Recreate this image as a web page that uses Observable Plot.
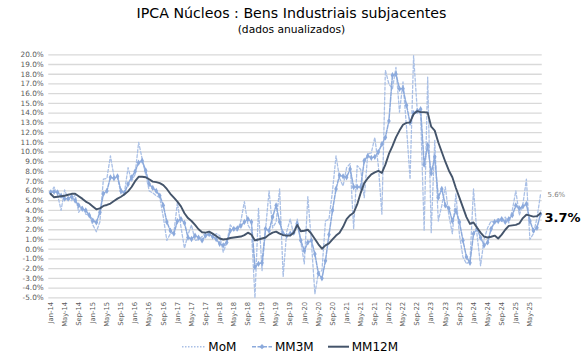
<!DOCTYPE html>
<html><head><meta charset="utf-8">
<script src="https://cdn.jsdelivr.net/npm/d3@7"></script>
<script src="https://cdn.jsdelivr.net/npm/@observablehq/plot@0.6"></script>
<style>
body{margin:0;background:#fff;font-family:"DejaVu Sans",Verdana,sans-serif;}
#wrap{position:relative;width:583px;height:363px;overflow:hidden;background:#fff}
.t{position:absolute;left:0;width:583px;text-align:center;white-space:nowrap;line-height:1;color:#000}
#title{top:6.3px;font-size:14.2px}
#sub{top:24.5px;font-size:10.7px}
#chart{position:absolute;top:42px;left:0}
#legend{position:absolute;top:336px;left:0}
</style></head>
<body><div id="wrap">
<div id="title" class="t">IPCA Núcleos : Bens Industriais subjacentes</div>
<div id="sub" class="t">(dados anualizados)</div>
<div id="chart"></div>
<div id="legend"></div>
</div>
<script>
// Jan-14 .. Aug-25, monthly (annualized %)
const mom = [
 5.8, 6.4, 5.6, 4.0, 6.1, 5.2, 5.0, 5.6, 3.8, 4.4,
 3.6, 3.5, 2.5, 1.8, 2.8, 7.2, 7.3, 9.6, 7.5, 7.4,
 5.7, 5.9, 8.4, 7.0, 7.7, 11.0, 9.3, 7.7, 6.0, 5.8,
 5.5, 5.3, 3.3, 0.9, 1.6, 1.7, 4.8, 2.3, 0.1, 1.5,
 2.5, 0.9, 1.0, 1.3, 1.7, 1.6, 1.2, 1.6, 1.4, -0.3,
 0.7, 2.5, 2.0, 1.9, 2.9, 4.9, 2.5, 1.9, -5.0, 4.2,
 -2.2, 2.0, 6.0, 2.2, 2.8, 6.2, -2.8, 1.8, 3.1, 1.5,
 3.1, 0.8, -1.5, 5.4, 0.8, -4.6, -2.4, -2.2, 2.9, 3.1,
 6.0, 9.6, 7.3, 6.5, 8.4, 8.8, 2.1, 8.6, 8.2, 5.3,
 9.8, 9.9, 11.5, 8.6, 3.6, 18.4, 17.0, 16.5, 18.7, 14.1,
 17.2, 12.5, 7.2, 19.9, 14.5, 13.8, 1.9, 17.7, 1.7, 11.2,
 2.9, 4.5, 6.4, 3.5, 1.6, 5.7, 1.5, -0.8, -1.5, -1.2,
 6.2, 1.5, -1.7, 1.0, 2.2, 2.9, 2.7, 3.2, 2.8, 3.3,
 2.7, 4.0, 6.0, 3.5, 4.6, 7.2, 1.0, 1.6, 3.2, 5.6
];
const mm3m = [
 5.85, 5.9, 5.85, 5.5, 5.2, 5.2, 5.4, 5.0, 4.5, 4.15,
 4.0, 3.5, 2.95, 2.75, 3.8, 5.7, 6.0, 7.4, 7.3, 7.5,
 6.0, 5.8, 6.7, 7.4, 8.0, 8.9, 9.1, 8.1, 6.7, 6.3,
 6.0, 5.5, 4.5, 2.8, 1.9, 1.6, 2.9, 3.1, 2.7, 1.2,
 1.05, 1.4, 1.2, 0.9, 1.4, 1.55, 1.3, 1.05, 0.55, 0.4,
 0.7, 1.9, 2.1, 2.15, 2.4, 2.8, 3.1, 2.8, -1.85, -1.5,
 -1.4, 2.1, 1.9, 3.3, 4.5, 2.8, 1.6, 1.4, 1.6, 1.7,
 2.6, 0.9, -0.15, 0.7, 0.9, -0.5, -2.5, -3.0, -1.2, 1.5,
 4.0, 6.2, 7.6, 7.5, 7.4, 8.25, 6.4, 6.4, 6.4, 9.1,
 9.6, 9.4, 9.5, 10.0, 10.8, 11.5, 13.2, 17.9, 18.0, 16.5,
 16.5, 14.8, 13.0, 14.0, 14.2, 14.4, 8.7, 10.7, 7.8, 9.5,
 5.3, 6.2, 4.5, 4.2, 2.9, 4.0, 2.8, 0.9, -0.8, -1.4,
 1.6, 2.1, 1.2, 0.4, 0.7, 2.1, 2.8, 2.9, 3.1, 2.8,
 3.1, 3.5, 4.5, 4.2, 4.4, 4.65, 2.9, 1.9, 2.2, 3.6
];
const mm12m = [
 5.7, 5.35, 5.4, 5.45, 5.5, 5.6, 5.7, 5.7, 5.45, 5.2,
 4.9, 4.7, 4.4, 4.1, 4.2, 4.45, 4.55, 4.7, 4.95, 5.2,
 5.4, 5.65, 5.95, 6.4, 7.0, 7.45, 7.45, 7.4, 7.2, 6.95,
 6.9, 6.8, 6.6, 6.2, 5.7, 5.3, 4.9, 4.4, 3.7, 3.2,
 2.9, 2.5, 2.05, 1.75, 1.7, 1.8, 1.6, 1.35, 1.1, 1.0,
 1.05, 1.15, 1.2, 1.25, 1.3, 1.45, 1.7, 1.5, 0.9, 1.0,
 1.1, 1.2, 1.5, 1.7, 1.8, 1.6, 1.45, 1.4, 1.4, 1.7,
 2.5, 1.85, 1.9, 2.0, 1.6, 1.05, 0.5, 0.05, 0.4, 0.6,
 1.0, 1.4, 1.7, 2.3, 3.1, 3.5, 3.75, 4.6, 5.8, 6.8,
 7.3, 7.7, 7.9, 8.05, 7.85, 8.7, 9.8, 10.6, 11.5, 12.2,
 12.8, 13.0, 13.05, 13.9, 14.2, 14.1, 14.1, 14.05, 12.6, 12.2,
 11.0, 10.0, 9.0, 8.1, 7.4, 6.3, 5.3, 4.3, 3.3, 2.6,
 2.75, 2.2, 1.7, 1.3, 1.2, 1.28, 1.4, 1.1, 1.5, 2.0,
 2.4, 2.45, 2.5, 2.65, 3.2, 3.55, 3.45, 3.35, 3.4, 3.7
];
const xTickLabels = [
 "Jan-14","May-14","Sep-14","Jan-15","May-15","Sep-15","Jan-16","May-16","Sep-16",
 "Jan-17","May-17","Sep-17","Jan-18","May-18","Sep-18","Jan-19","May-19","Sep-19",
 "Jan-20","May-20","Sep-20","Jan-21","May-21","Sep-21","Jan-22","May-22","Sep-22",
 "Jan-23","May-23","Sep-23","Jan-24","May-24","Sep-24","Jan-25","May-25"
];
const yTicks = d3.range(-5, 20.001, 1);
const seriesNames = ["MoM", "MM3M", "MM12M"];

const n = mm12m.length;
const rows = d3.range(n).map(i => ({i, mom: mom[i], mm3m: mm3m[i], mm12m: mm12m[i]}));
const last = rows[n - 1];
const xTickPos = xTickLabels.map((_, k) => k * 4);

const cMoM = "#aac0e6", c3 = "#8caadc", c12 = "#44546a";

const plot = Plot.plot({
  width: 583, height: 296,
  marginLeft: 48.25, marginRight: 41.25, marginTop: 12.3, marginBottom: 40.7,
  style: {fontFamily: "'DejaVu Sans', Verdana, sans-serif", color: "#595959", background: "transparent", overflow: "visible"},
  x: {type: "linear", domain: [-0.5, n - 0.5], axis: null, label: null},
  y: {domain: [-5, 20], axis: null, label: null},
  marks: [
    Plot.ruleY(yTicks, {stroke: "#d9d9d9", strokeWidth: 1.3}),
    Plot.axisY({ticks: yTicks, tickSize: 0, tickPadding: 5, fontSize: 7.3, label: null, tickFormat: d => d.toFixed(1) + "%"}),
    Plot.axisX({ticks: xTickPos, tickSize: 0, tickPadding: 4, tickRotate: -90, fontSize: 6.8, label: null, tickFormat: d => xTickLabels[d / 4]}),
    Plot.line(rows, {x: "i", y: "mom", stroke: cMoM, strokeWidth: 1.3, strokeDasharray: "3,2"}),
    Plot.line(rows, {x: "i", y: "mm3m", stroke: c3, strokeWidth: 1.5, strokeDasharray: "4,1.5"}),
    Plot.dot(rows, {x: "i", y: "mm3m", symbol: "diamond", r: 1.9, fill: c3, stroke: "none"}),
    Plot.line(rows, {x: "i", y: "mm12m", stroke: c12, strokeWidth: 1.9}),
    Plot.text([last], {x: "i", y: "mom", text: d => d.mom.toFixed(1) + "%", dx: 7, textAnchor: "start", fontSize: 7, fill: "#7f7f7f"}),
    Plot.text([last], {x: "i", y: "mm12m", text: d => d.mm12m.toFixed(1) + "%", dx: 4, dy: 4.5, textAnchor: "start", fontSize: 13, fontWeight: "bold", fill: "#000"})
  ]
});
document.getElementById("chart").appendChild(plot);

// legend
const lg = d3.select("#legend").append("svg").attr("width", 583).attr("height", 27)
  .style("font-family", "'DejaVu Sans', Verdana, sans-serif");
const items = [
  {name: seriesNames[0], x0: 182, x1: 205, tx: 208.3, stroke: cMoM, dash: "1.5,1.5", w: 1.6, marker: false},
  {name: seriesNames[1], x0: 252, x1: 272, tx: 275, stroke: c3, dash: "4,1.5", w: 1.6, marker: true},
  {name: seriesNames[2], x0: 328, x1: 349, tx: 351.7, stroke: c12, dash: null, w: 2, marker: false}
];
const cy = 10.7;
items.forEach(it => {
  const l = lg.append("line").attr("x1", it.x0).attr("x2", it.x1).attr("y1", cy).attr("y2", cy)
    .attr("stroke", it.stroke).attr("stroke-width", it.w);
  if (it.dash) l.attr("stroke-dasharray", it.dash);
  if (it.marker) {
    const mx = (it.x0 + it.x1) / 2;
    lg.append("path").attr("d", `M${mx},${cy-2.6}L${mx+2.6},${cy}L${mx},${cy+2.6}L${mx-2.6},${cy}Z`).attr("fill", it.stroke);
  }
  lg.append("text").attr("x", it.tx).attr("y", cy + 4.4).attr("font-size", 12).attr("fill", "#000").text(it.name);
});
</script>
</body></html>
